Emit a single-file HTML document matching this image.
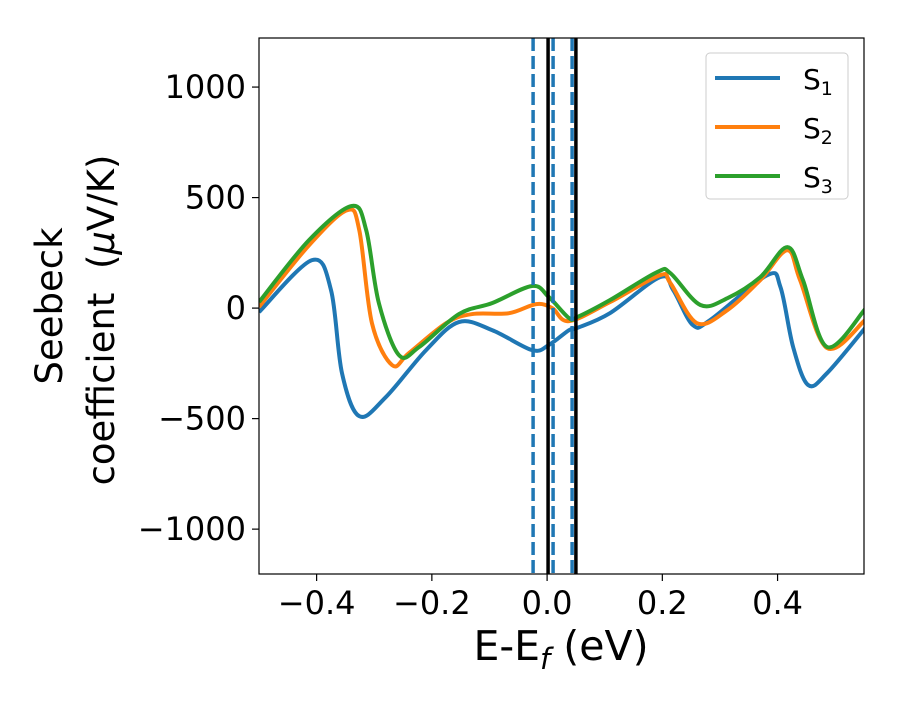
<!DOCTYPE html>
<html><head><meta charset="utf-8"><style>
body{margin:0;background:#fff;}
svg text{font-family:"DejaVu Sans","Liberation Sans",sans-serif;}
</style></head><body>
<svg id="chart" width="900" height="700" xmlns="http://www.w3.org/2000/svg">
<defs><clipPath id="plotclip"><rect x="259" y="38" width="605" height="536"/></clipPath></defs>
<g id="marks" clip-path="url(#plotclip)"></g>
<rect x="259" y="38" width="605" height="536" fill="none" stroke="#000" stroke-width="1.2"/>
<g id="ticks"></g>
<text x="561" y="660" font-size="41" text-anchor="middle">E-E<tspan font-style="italic" font-size="29" dy="9">f</tspan><tspan dy="-9"> (eV)</tspan></text>
<text transform="translate(62,306) rotate(-90)" font-size="37" text-anchor="middle">Seebeck</text>
<text transform="translate(114,320) rotate(-90)" font-size="37" text-anchor="middle" xml:space="preserve">coefficient  (<tspan font-style="italic">μ</tspan>V/K)</text>
<g>
<rect x="706" y="53" width="142" height="146" rx="4" fill="#fff" stroke="#ccc"/>
<line x1="715" y1="78" x2="780" y2="78" stroke="#1f77b4" stroke-width="4"/>
<text x="803" y="89" font-size="28">S<tspan font-size="19" dy="6">1</tspan></text>
<line x1="715" y1="127" x2="780" y2="127" stroke="#ff7f0e" stroke-width="4"/>
<text x="803" y="138" font-size="28">S<tspan font-size="19" dy="6">2</tspan></text>
<line x1="715" y1="176" x2="780" y2="176" stroke="#2ca02c" stroke-width="4"/>
<text x="803" y="187" font-size="28">S<tspan font-size="19" dy="6">3</tspan></text>
</g>
</svg>
<script>
const xTicks=[-0.4,-0.2,0.0,0.2,0.4];
const xTickLabels=["−0.4","−0.2","0.0","0.2","0.4"];
const yTicks=[1000,500,0,-500,-1000];
const yTickLabels=["1000","500","0","−500","−1000"];
const dashedLines=[-0.0243,0.0104,0.0434];
const solidLines=[0.0017,0.05];
const s1X=[-0.5,-0.408,-0.375,-0.356,-0.326,-0.28,-0.21,-0.153,-0.095,-0.026,0.003,0.038,0.052,0.109,0.196,0.219,0.253,0.283,0.382,0.405,0.427,0.453,0.486,0.552];
const s1Y=[-18,217,81,-294,-489,-403,-190,-63,-100,-190,-167,-100,-90,-23,140,81,-77,-54,149,95,-176,-348,-294,-90];
const s2X=[-0.5,-0.413,-0.347,-0.326,-0.304,-0.269,-0.24,-0.175,-0.13,-0.066,-0.019,0.009,0.038,0.109,0.196,0.214,0.26,0.313,0.37,0.417,0.439,0.486,0.552];
const s2Y=[5,285,443,353,-68,-258,-204,-68,-27,-23,18,0,-59,27,149,113,-68,-9,127,262,127,-181,-54];
const s3X=[-0.5,-0.413,-0.339,-0.314,-0.292,-0.257,-0.222,-0.153,-0.095,-0.026,0.003,0.038,0.052,0.109,0.191,0.214,0.266,0.313,0.37,0.417,0.444,0.486,0.552];
const s3Y=[27,308,462,353,23,-213,-176,-27,23,100,50,-45,-41,36,163,158,14,45,140,276,127,-176,-5];

const NS="http://www.w3.org/2000/svg";
const X0=259,X1=864,Y0=574,Y1=38,xmin=-0.5,xmax=0.55,ymin=-1203,ymax=1222;
function sx(v){return X0+(v-xmin)/(xmax-xmin)*(X1-X0);}
function sy(v){return Y0-(v-ymin)/(ymax-ymin)*(Y0-Y1);}
const marks=document.getElementById('marks');
const ticks=document.getElementById('ticks');
function mk(tag,attrs,parent){const e=document.createElementNS(NS,tag);for(const k in attrs)e.setAttribute(k,attrs[k]);parent.appendChild(e);return e;}
xTicks.forEach((v,i)=>{
  const l=mk('line',{x1:sx(v),x2:sx(v),y1:574,y2:581,stroke:'#000','stroke-width':1.2},ticks);
  
  
  const t=mk('text',{x:sx(v),y:614,'font-size':32,'text-anchor':'middle'},ticks);
  t.textContent=xTickLabels[i];
  
  
});
yTicks.forEach((v,i)=>{
  const l=mk('line',{x1:252,x2:259,y1:sy(v),y2:sy(v),stroke:'#000','stroke-width':1.2},ticks);
  
  
  const t=mk('text',{x:246,y:sy(v)+11,'font-size':32,'text-anchor':'end'},ticks);
  t.textContent=yTickLabels[i];
  
  
});
function pathFor(xs,ys){
  const p=xs.map((x,i)=>[sx(x),sy(ys[i])]);
  let d='M'+p[0][0]+','+p[0][1];
  for(let i=0;i<p.length-1;i++){
    const a=p[Math.max(0,i-1)],b=p[i],c=p[i+1],e=p[Math.min(p.length-1,i+2)];
    const c1=[b[0]+(c[0]-a[0])/6,b[1]+(c[1]-a[1])/6];
    const c2=[c[0]-(e[0]-b[0])/6,c[1]-(e[1]-b[1])/6];
    d+=' C'+c1[0]+','+c1[1]+' '+c2[0]+','+c2[1]+' '+c[0]+','+c[1];
  }
  return d;
}
[[s1X,s1Y,'#1f77b4','series-s1'],[s2X,s2Y,'#ff7f0e','series-s2'],[s3X,s3Y,'#2ca02c','series-s3']].forEach(s=>{
  const p=mk('path',{d:pathFor(s[0],s[1]),fill:'none',stroke:s[2],'stroke-width':4,'stroke-linejoin':'round'},marks);
  
  
});
dashedLines.forEach(v=>{
  const l=mk('line',{x1:sx(v),x2:sx(v),y1:38,y2:574,stroke:'#1f77b4','stroke-width':3.5,'stroke-dasharray':'13,5'},marks);
  
  
});
solidLines.forEach(v=>{
  const l=mk('line',{x1:sx(v),x2:sx(v),y1:38,y2:574,stroke:'#000','stroke-width':3.5},marks);
  
  
});
</script>
</body></html>
